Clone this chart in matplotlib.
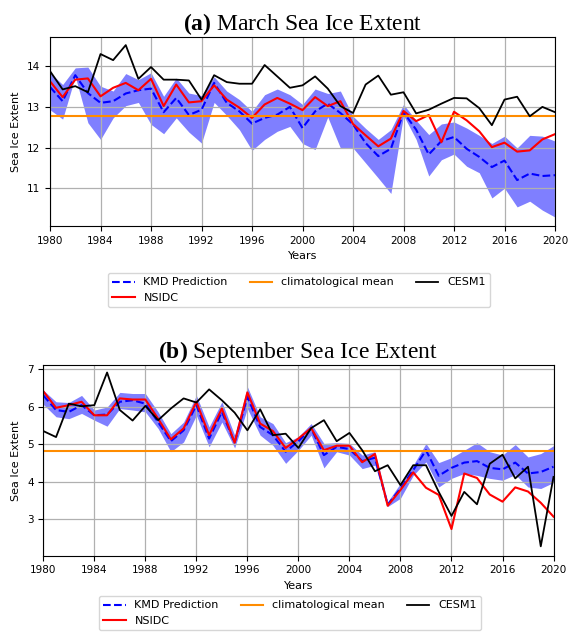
import numpy as np
import matplotlib
matplotlib.use("Agg")
import matplotlib.pyplot as plt

plt.rcParams["mathtext.fontset"] = "custom"
plt.rcParams["mathtext.rm"] = "Liberation Serif"
plt.rcParams["mathtext.bf"] = "Liberation Serif:bold"

years = np.arange(1980, 2021)
year_ticks = np.arange(1980, 2021, 4)

# March sea ice extent
mar_kmd = [13.49, 13.14, 13.78, 13.34, 13.10, 13.14, 13.33, 13.41, 13.45, 12.87,
           13.22, 12.80, 12.93, 13.59, 13.10, 12.89, 12.59, 12.73, 12.81, 13.00,
           12.48, 12.89, 13.08, 12.85, 12.57, 12.11, 11.79, 11.97, 12.87, 12.44,
           11.83, 12.16, 12.26, 11.97, 11.77, 11.52, 11.68, 11.20, 11.36, 11.30,
           11.32]
mar_kmd_upper = [13.84, 13.55, 13.96, 13.98, 13.51, 13.39, 13.82, 13.67, 13.84, 13.26,
                 13.71, 13.34, 13.28, 13.74, 13.39, 13.18, 12.89, 13.30, 13.44, 13.30,
                 13.06, 13.44, 13.33, 13.39, 12.77, 12.47, 12.20, 12.44, 13.06, 12.67,
                 12.32, 12.58, 12.63, 12.48, 12.30, 12.10, 12.28, 11.99, 12.30, 12.28,
                 12.16]
mar_kmd_lower = [12.93, 12.70, 13.75, 12.61, 12.20, 12.73, 13.03, 13.11, 12.57, 12.34,
                 12.73, 12.38, 12.11, 13.11, 12.79, 12.44, 11.93, 12.20, 12.40, 12.52,
                 12.10, 11.95, 12.75, 11.99, 11.99, 11.62, 11.25, 10.87, 12.79, 12.20,
                 11.30, 11.70, 11.84, 11.54, 11.38, 10.76, 11.00, 10.54, 10.68, 10.46,
                 10.29]
mar_nsidc = [13.63, 13.24, 13.67, 13.70, 13.26, 13.47, 13.59, 13.41, 13.69, 13.02,
             13.55, 13.11, 13.14, 13.53, 13.18, 12.98, 12.73, 13.06, 13.22, 13.08,
             12.92, 13.24, 13.02, 13.14, 12.58, 12.30, 12.03, 12.22, 12.90, 12.65,
             12.80, 12.13, 12.88, 12.67, 12.40, 12.01, 12.12, 11.90, 11.93, 12.20,
             12.33]
mar_cesm = [13.88, 13.43, 13.51, 13.36, 14.30, 14.15, 14.52, 13.69, 13.98, 13.67,
            13.67, 13.65, 13.18, 13.78, 13.61, 13.57, 13.57, 14.03, 13.75, 13.47,
            13.53, 13.75, 13.45, 13.02, 12.85, 13.55, 13.77, 13.30, 13.36, 12.84,
            12.93, 13.08, 13.22, 13.21, 12.97, 12.55, 13.18, 13.25, 12.77, 13.00,
            12.87]
mar_clim = 12.77

# September sea ice extent
sep_kmd = [6.30, 5.91, 5.86, 6.04, 5.77, 5.79, 6.13, 6.17, 6.08, 5.59,
           5.08, 5.37, 6.04, 5.15, 5.86, 5.04, 6.26, 5.46, 5.24, 4.80,
           5.08, 5.42, 4.71, 4.93, 4.87, 4.55, 4.64, 3.39, 3.82, 4.31,
           4.84, 4.16, 4.37, 4.51, 4.55, 4.37, 4.33, 4.51, 4.22, 4.26,
           4.40]
sep_kmd_upper = [6.44, 6.13, 6.11, 6.30, 5.91, 5.99, 6.38, 6.35, 6.35, 5.86,
                 5.28, 5.59, 6.30, 5.46, 6.13, 5.24, 6.53, 5.73, 5.55, 5.04,
                 5.20, 5.55, 5.02, 5.04, 5.02, 4.71, 4.80, 3.47, 3.96, 4.44,
                 5.02, 4.51, 4.64, 4.84, 5.04, 4.80, 4.71, 4.99, 4.66, 4.75,
                 4.96]
sep_kmd_lower = [6.06, 5.73, 5.68, 5.82, 5.64, 5.48, 5.95, 5.91, 5.86, 5.42,
                 4.80, 5.06, 5.77, 4.93, 5.59, 4.90, 5.95, 5.24, 4.97, 4.49,
                 4.84, 5.24, 4.37, 4.80, 4.71, 4.35, 4.44, 3.34, 3.56, 4.17,
                 4.53, 3.86, 4.09, 4.22, 4.17, 4.09, 4.04, 4.19, 3.86, 3.82,
                 3.98]
sep_nsidc = [6.41, 5.97, 6.04, 6.13, 5.77, 5.77, 6.22, 6.19, 6.19, 5.68,
             5.13, 5.42, 6.13, 5.24, 5.95, 5.04, 6.38, 5.55, 5.35, 4.90,
             5.15, 5.43, 4.84, 4.96, 4.96, 4.52, 4.74, 3.36, 3.78, 4.25,
             3.84, 3.65, 2.74, 4.22, 4.10, 3.66, 3.47, 3.85, 3.74, 3.44,
             3.07]
sep_cesm = [5.35, 5.19, 6.08, 6.01, 6.04, 6.91, 5.91, 5.63, 6.02, 5.64,
            5.95, 6.22, 6.11, 6.46, 6.17, 5.84, 5.37, 5.93, 5.24, 5.28,
            4.90, 5.43, 5.64, 5.08, 5.30, 4.84, 4.28, 4.44, 3.91, 4.44,
            4.44, 3.73, 3.09, 3.73, 3.40, 4.48, 4.72, 4.09, 4.40, 2.28,
            4.13]
sep_clim = 4.81


def draw_panel(ax, kmd, lower, upper, nsidc, cesm, clim, title, ylim):
    ax.fill_between(years, lower, upper, color="blue", alpha=0.5, linewidth=0)
    ax.plot(years, kmd, "b--", linewidth=1.5, label="KMD Prediction")
    ax.plot(years, nsidc, "r-", linewidth=1.5, label="NSIDC")
    ax.axhline(clim, color="darkorange", linewidth=1.5, label="climatological mean")
    ax.plot(years, cesm, "k-", linewidth=1.3, label="CESM1")

    ax.set_xlim(1980, 2020)
    ax.set_ylim(*ylim)
    ax.set_xticks(year_ticks)
    ax.tick_params(labelsize=7.5)
    ax.grid(True, color="#b0b0b0", linewidth=0.9)
    ax.set_xlabel("Years", fontsize=8)
    ax.set_ylabel("Sea Ice Extent", fontsize=8)
    ax.set_title(title, fontsize=17, family="Liberation Serif", pad=4)

    # legend order: KMD, NSIDC, climatological mean, CESM1
    handles, labels = ax.get_legend_handles_labels()
    order = [labels.index(l) for l in
             ["KMD Prediction", "NSIDC", "climatological mean", "CESM1"]]
    return [handles[i] for i in order], [labels[i] for i in order]


fig = plt.figure(figsize=(5.69, 6.32), dpi=100)

ax_a = fig.add_axes([0.0879, 0.6424, 0.8875, 0.2991])
h, l = draw_panel(ax_a, mar_kmd, mar_kmd_lower, mar_kmd_upper, mar_nsidc,
                  mar_cesm, mar_clim, r"$\mathbf{(a)}$ March Sea Ice Extent",
                  (10.07, 14.72))
fig.legend(h, l, ncol=3, fontsize=8, loc="upper center",
           bbox_to_anchor=(0.5255, 0.568), bbox_transform=fig.transFigure,
           borderaxespad=0)

ax_b = fig.add_axes([0.0761, 0.1207, 0.8967, 0.3018])
h, l = draw_panel(ax_b, sep_kmd, sep_kmd_lower, sep_kmd_upper, sep_nsidc,
                  sep_cesm, sep_clim, r"$\mathbf{(b)}$ September Sea Ice Extent",
                  (2.03, 7.11))
fig.legend(h, l, ncol=3, fontsize=8, loc="upper center",
           bbox_to_anchor=(0.5097, 0.057), bbox_transform=fig.transFigure,
           borderaxespad=0)

fig.savefig("out.png", dpi=100)
